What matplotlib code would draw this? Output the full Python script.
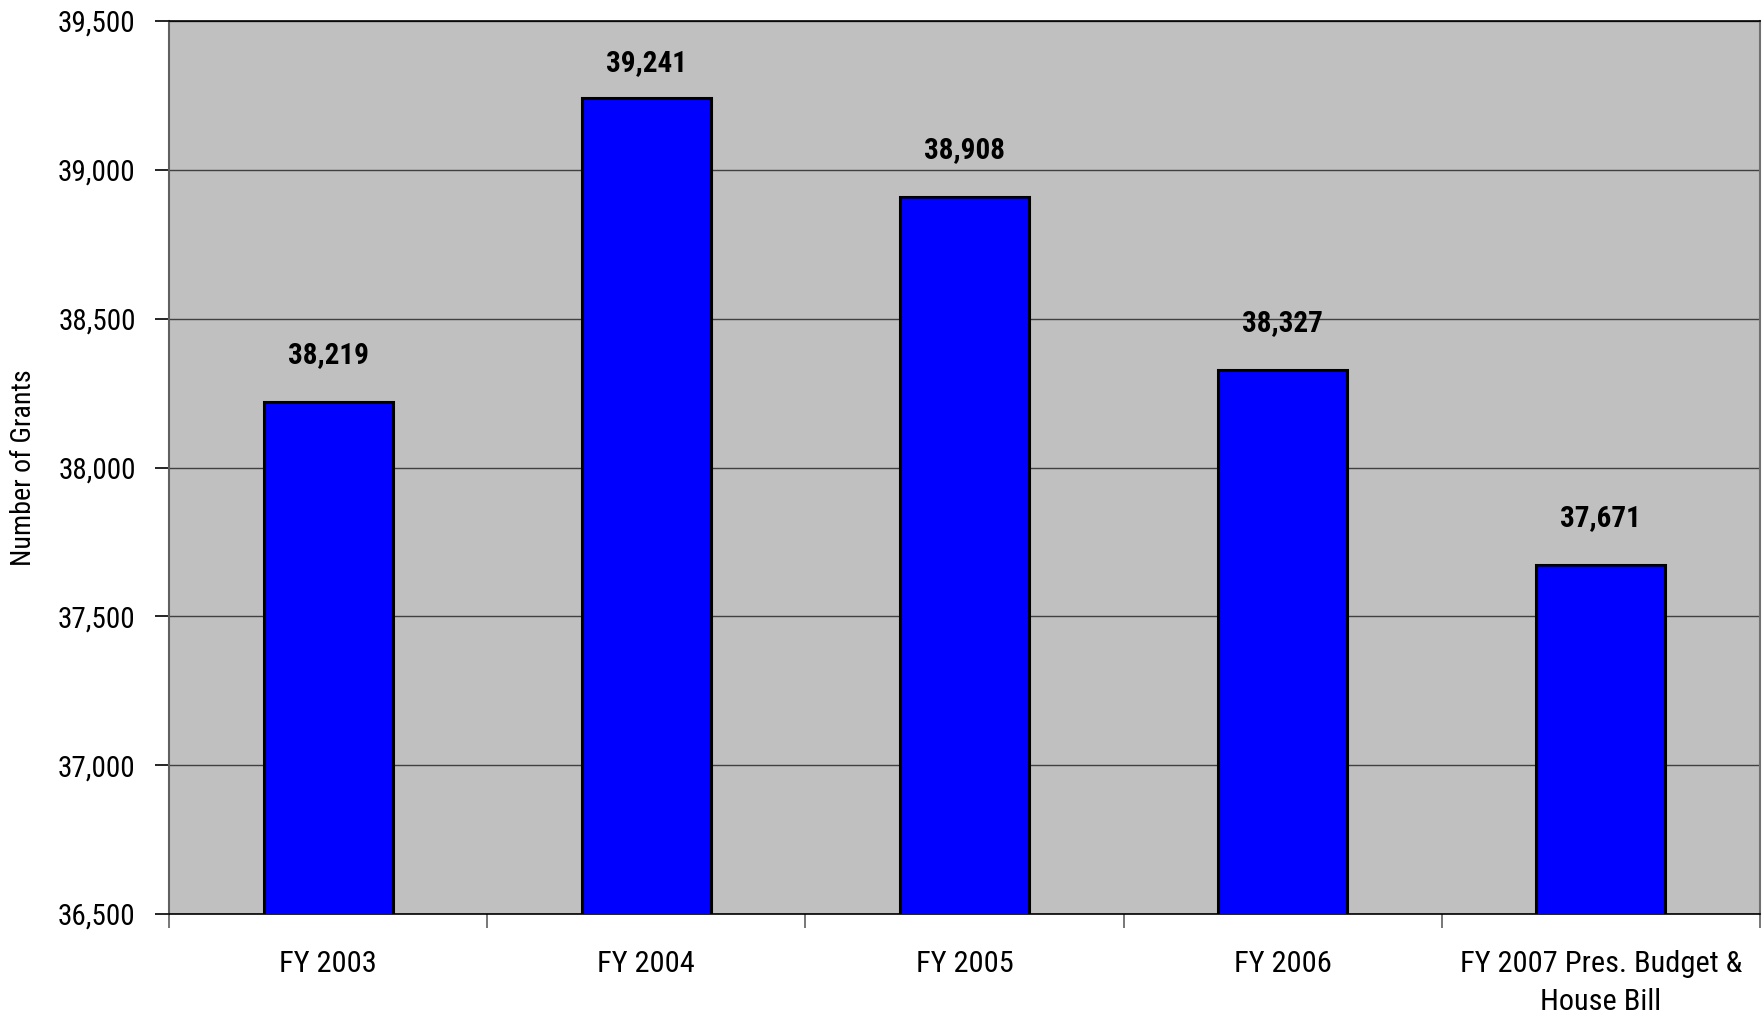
import matplotlib
matplotlib.use("Agg")
import matplotlib.pyplot as plt
from matplotlib import font_manager
import numpy as np

categories = ["FY 2003", "FY 2004", "FY 2005", "FY 2006", "FY 2007 Pres. Budget &\nHouse Bill"]
values = [38219, 39241, 38908, 38327, 37671]
yticks = [36500, 37000, 37500, 38000, 38500, 39000, 39500]

names = {f.name for f in font_manager.fontManager.ttflist}
narrow = None
for cand in ['Liberation Sans Narrow', 'Arial Narrow', 'Roboto Condensed', 'Open Sans Condensed',
             'Noto Sans Condensed', 'DejaVu Sans Condensed']:
    if cand in names:
        narrow = cand
        break
if narrow is None:
    narrow = 'Liberation Sans'
plt.rcParams['font.family'] = [narrow, 'DejaVu Sans']
scale = 1.0 if narrow in ('Liberation Sans Narrow', 'Arial Narrow', 'Roboto Condensed') else 0.85
fs = 21 * scale

W, H = 1762, 1016
ax_left, ax_right, ax_top, ax_bottom = 169, 1760, 21, 914
fig = plt.figure(figsize=(W / 100, H / 100), dpi=100)
ax = fig.add_axes([ax_left / W, 1 - ax_bottom / H, (ax_right - ax_left) / W, (ax_bottom - ax_top) / H])
ax.set_facecolor('#c0c0c0')

x = np.arange(len(categories))
ax.bar(x, values, width=0.405, color='#0000ff', edgecolor='black', linewidth=2.2, zorder=3)
ax.set_xlim(-0.5, len(categories) - 0.5)
ax.set_ylim(yticks[0], yticks[-1])
ax.set_yticks(yticks)
ax.set_yticklabels([f"{v:,}" for v in yticks], fontsize=fs)
ax.yaxis.grid(True, color='#404040', linewidth=1.0, zorder=1)
ax.set_axisbelow(True)

ax.set_xticks(np.arange(len(categories) + 1) - 0.5)
ax.set_xticklabels([])
ax.set_xticks(x, minor=True)
ax.set_xticklabels(categories, minor=True, fontsize=fs * 1.04, linespacing=1.45)
ax.tick_params(axis='x', which='minor', length=0, pad=26)
ax.tick_params(axis='x', which='major', length=10, width=1.2, color='#606060', direction='out')
ax.tick_params(axis='y', length=10, width=1.2, direction='out', pad=14)

ax.spines['top'].set_color('black')
ax.spines['top'].set_linewidth(1.2)
ax.spines['right'].set_color('#707070')
ax.spines['right'].set_linewidth(1.5)
ax.spines['left'].set_color('#606060')
ax.spines['left'].set_linewidth(1.5)
ax.spines['bottom'].set_color('black')
ax.spines['bottom'].set_linewidth(1.2)

# value labels: centred ~47 px above bar, but kept at least ~42 px below the plot top
px_per_unit = (ax_bottom - ax_top) / (yticks[-1] - yticks[0])
for xi, v in zip(x, values):
    dist_top = (yticks[-1] - v) * px_per_unit
    off = min(47, dist_top - 42)
    ax.annotate(f"{v:,}", (xi, v), xytext=(0, off), textcoords='offset pixels',
                ha='center', va='center', fontsize=fs, fontweight='bold')

ax.set_ylabel("Number of Grants", fontsize=20.2 * scale)
ax.yaxis.set_label_coords((37 - ax_left) / (ax_right - ax_left), 0.5)

fig.savefig("out.png", dpi=100)
